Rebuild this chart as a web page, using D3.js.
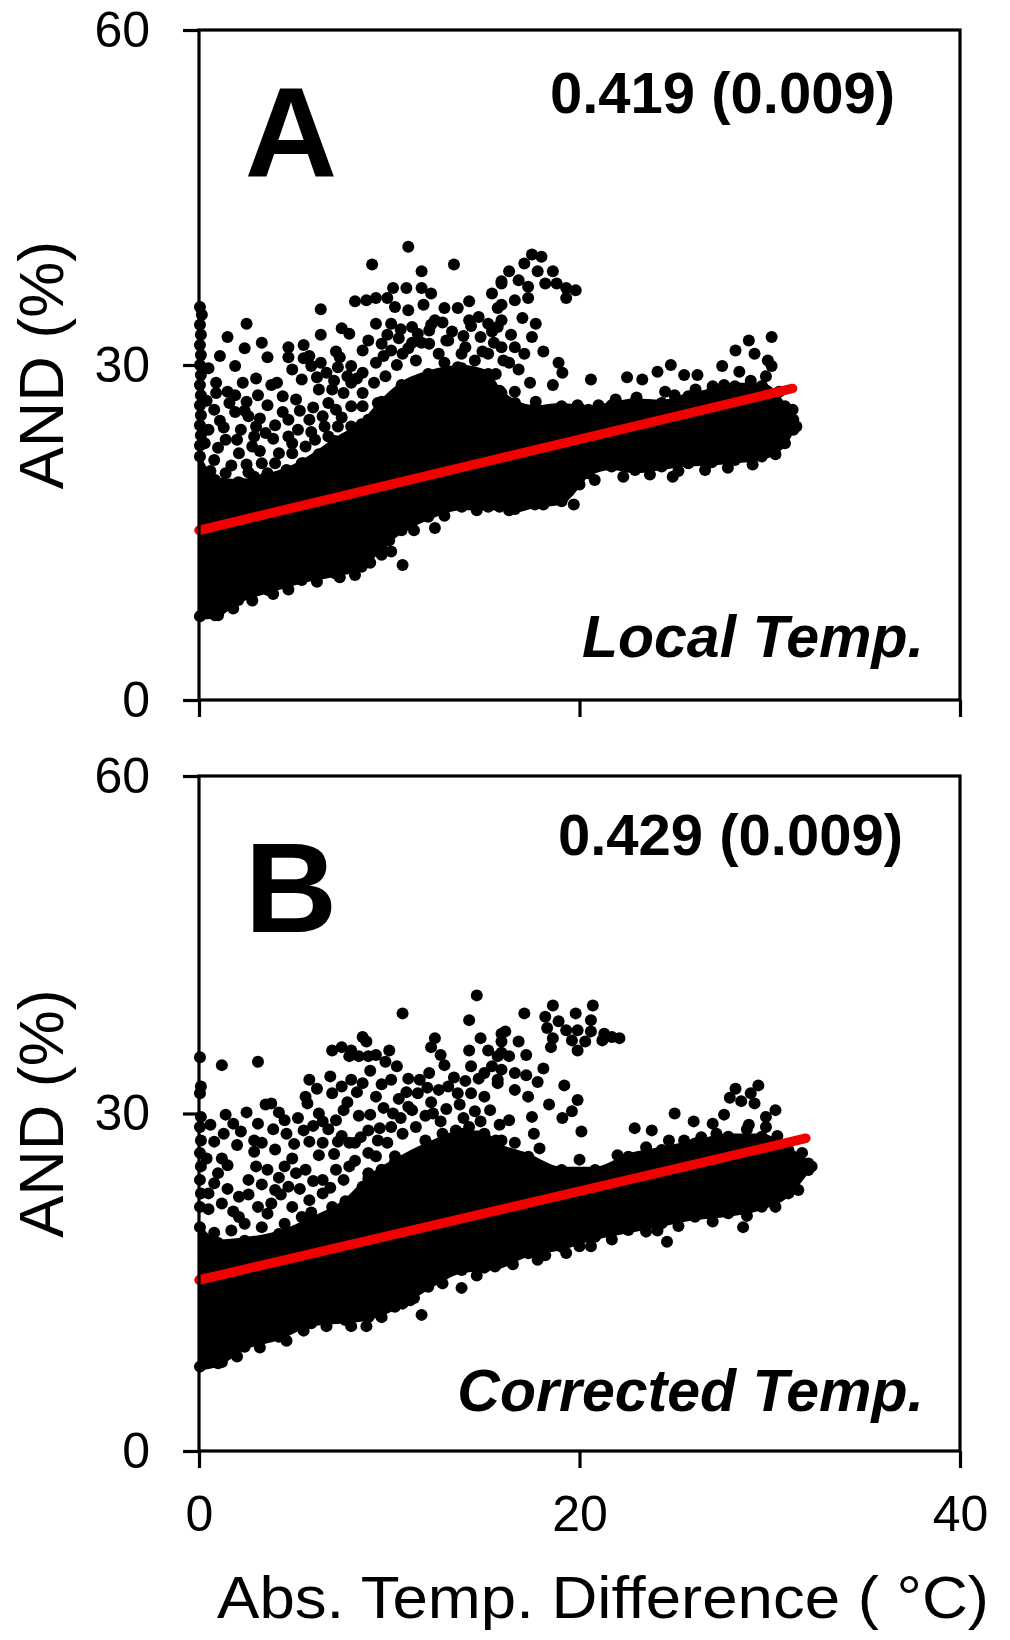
<!DOCTYPE html>
<html><head><meta charset="utf-8">
<script src="https://cdn.jsdelivr.net/npm/d3@7"></script>
<style>body{margin:0;background:#fff}svg{display:block}text{font-family:"Liberation Sans",Arial,sans-serif}</style>
</head><body><svg id="c" width="1010" height="1640"></svg>
<script>
// ---- data ----
const xTicks = [0, 20, 40];
const yTicks = [0, 30, 60];
const panelLabels = ["A", "B"];
const slopeLabels = ["0.419 (0.009)", "0.429 (0.009)"];
const tempLabels = ["Local Temp.", "Corrected Temp."];
const xTitle = "Abs. Temp. Difference ( °C)";
const yTitle = "AND (%)";

// regression lines [x, y]
const fitA = [[0, 15.2], [31.2, 27.9]];
const fitB = [[0, 15.2], [31.9, 27.8]];

// dense (fully overlapping) part of the cloud: x, lower edge, upper edge
const coreAx   = [0.05,0.84,2.07,3.64,5.40,7.15,8.55,9.60,10.65,12.05,13.81,15.2,15.8,16.61,17.66,19.06,20.0,20.47,21.69,22.92,24.32,25.72,26.95,28.17,29.58,30.80,31.24];
const coreALow = [7.2,7.3,8.65,9.55,10.44,11.04,11.64,13.4,14.9,16.1,17.0,17.0,17.0,16.8,17.2,17.5,19.0,20.0,20.6,20.3,20.6,20.9,21.0,21.2,21.5,22.7,23.9];
const coreAHigh= [22.1,20.0,19.8,20.3,21.5,23.5,25.0,27.0,28.5,29.5,30.0,29.5,28.0,26.9,26.4,26.6,26.4,26.3,26.7,27.0,26.9,27.5,27.9,28.4,28.4,26.6,25.4];

const coreBx   = [0.05,1.0,2.4,4.2,5.9,7.7,8.9,10.3,12.05,13.81,15.0,15.56,17.31,19.06,20.82,22.57,24.32,26.07,27.82,29.58,30.98,32.03];
const coreBLow = [7.2,7.5,8.97,9.86,11.05,11.35,11.6,12.53,14.31,15.79,16.0,16.09,17.27,17.86,18.75,19.35,19.94,20.53,20.83,21.42,22.60,24.68];
const coreBHigh= [20.2,18.8,19.0,19.6,20.8,22.5,24.5,26.0,27.5,28.5,28.5,27.64,26.46,25.27,25.27,26.46,27.05,27.64,28.23,28.23,27.05,25.86];

// individual (separately visible) points [x, y]
const pointsA = [
[11.0,40.6],[9.1,39.0],[13.4,39.0],[11.7,38.4],[15.9,37.3],[10.2,36.9],[10.9,36.9],[11.7,36.9],[12.2,36.4],[8.2,35.7],[8.8,35.8],[9.3,36.0],[9.9,36.0],[10.3,35.2],[11.0,34.9],[11.8,35.4],[12.9,35.1],[13.6,35.1],[14.2,35.7],[15.4,36.4],[15.9,35.4],
[6.4,35.0],[2.5,33.7],[1.5,32.5],[7.5,33.3],[7.9,32.8],[6.4,32.7],[8.9,32.2],[9.3,33.7],[10.1,33.7],[11.2,33.4],[12.1,33.1],[12.4,34.0],[14.2,34.0],[14.7,34.3],[15.2,33.7],[15.9,34.0],
[4.7,31.6],[5.5,31.8],[3.6,30.7],[4.7,30.7],[5.5,30.6],[7.2,31.2],[7.4,30.7],[5.9,29.9],[6.4,30.2],[6.7,29.3],[8.0,29.9],[8.6,29.3],[9.3,30.2],[9.6,31.9],[10.1,31.3],[10.7,31.0],[11.4,30.4],[12.1,31.9],[13.1,32.2],[13.8,31.0],[14.5,30.4],[15.2,31.0],
[1.9,29.9],[3.8,28.2],[0.9,27.5],[1.5,27.6],[1.9,27.3],[2.5,26.7],[0.8,26.0],[1.9,25.8],[2.6,25.4],[3.6,26.4],[4.4,27.2],[5.1,26.9],[5.4,28.7],[6.3,27.8],[7.0,27.8],[7.6,27.5],[8.0,28.4],[8.6,27.5],[4.4,25.8],[4.7,25.1],[5.8,25.1],[6.5,25.4],[7.2,26.0],[8.0,26.3],
[0.5,24.2],[1.4,23.3],[2.2,24.2],[3.0,24.5],[3.5,23.9],[0.8,21.5],[2.1,22.1],[2.8,22.7],[3.9,23.4],[4.7,23.6],[5.2,24.2],[3.3,21.2],[4.2,22.1],[4.9,22.1],[5.6,22.7],[6.1,23.3],[6.8,23.6],[7.3,24.5],[8.0,24.5],[8.9,25.1],
[0.5,19.4],[1.4,20.3],[2.2,19.4],[2.9,20.0],[3.6,20.3],[4.4,19.4],[5.1,19.7],[5.9,20.3],[6.5,20.9],[7.2,21.5],[7.9,22.1],[0.5,17.6],[1.5,19.1],[2.9,18.5],[3.8,18.5],[4.5,19.1],
[0.4,26.8],[1.1,25.0],[0.3,23.0],[1.0,22.6],[1.7,21.0],[0.6,20.5],[2.5,21.1],[2.0,23.3],[2.9,23.6],[2.6,20.4],[3.2,22.3],[3.4,19.8],[4.0,21.2],[4.6,20.6],[4.9,23.0],[4.0,24.6],[5.5,21.2],[5.9,24.0],[6.3,22.0],[6.6,24.5],[6.9,22.5],[7.6,23.1],[7.5,25.3],[8.3,23.7],[8.6,26.3],[9.1,24.2],[9.4,26.6],[8.3,28.8],[7.1,28.6],[6.0,26.2],[5.3,25.9],[3.2,25.2],[2.4,25.9],[1.3,24.4],[0.9,28.4],[1.6,26.6],[3.1,27.3],[4.1,28.4],[6.8,26.6],[7.8,29.0],
[9.8,29.0],[10.4,30.0],[11.0,31.5],[11.7,32.0],[12.6,31.0],[13.3,33.0],[13.9,32.6],[14.8,32.5],[15.5,32.0],[16.0,30.4],[15.6,29.2],[14.3,33.5],[12.8,33.8],[11.5,32.8],[10.5,32.4],[9.7,30.8],[12.9,30.2],[13.6,29.8],
[12.2,33.6],[13.0,32.2],[14.0,31.6],[14.9,31.2],[15.4,33.0],[11.2,32.0],[10.6,33.2],[9.9,32.7],[8.6,31.3],[9.2,28.4],[7.3,29.8],[6.2,28.9],[5.8,30.8],[4.9,29.6],[3.0,28.8],[2.3,28.4],[0.5,29.7],[1.1,30.8],[2.4,31.5],[3.3,32.0],
[10.0,14.3],[10.7,12.1],[10.1,13.3],[12.4,15.4],
[1.0,7.6],[1.8,8.2],[2.8,8.9],[3.9,9.5],[4.7,9.9],[6.2,10.6],[7.4,11.0],[8.2,11.2],[9.0,12.3],[9.6,13.0],[11.3,15.2],[12.9,16.5],[14.6,17.0],[18.1,17.5],[20.8,19.7],[22.3,20.0],[23.7,20.2],[25.2,20.5],[26.6,20.6],[27.8,20.8],[29.1,21.1],[30.3,22.0],
[21.0,26.4],[23.0,27.1],[25.0,27.3],[27.6,28.2],[29.0,28.6],[30.5,27.6],[31.2,26.0],[31.4,24.5],
[17.5,39.9],[18.0,39.7],[17.1,39.1],[16.3,38.4],[17.8,38.4],[18.6,38.4],[15.9,37.5],[16.8,37.6],[17.3,37.0],[18.2,37.3],[18.8,37.3],[19.3,36.9],[19.8,36.7],[16.6,35.8],[17.3,36.0],[19.3,36.0],[15.7,35.1],[17.0,34.2],[17.7,33.7],[15.7,33.4],[16.4,32.7],[17.5,32.5],[15.9,31.6],[16.6,31.6],[17.1,31.0],[18.1,31.2],[16.3,30.2],[16.8,29.6],[18.9,30.2],[19.1,29.3],[17.4,28.4],[18.6,28.2],[20.6,28.7],[15.9,27.5],[16.6,27.6],
[30.1,32.5],[28.9,32.2],[28.2,31.3],[29.2,31.0],[29.9,30.4],[30.1,29.9],[27.5,29.9],[28.4,29.4],[24.1,29.4],[24.8,30.0],[25.5,29.1],[26.2,29.1],[22.5,28.9],[23.3,28.7],[27.0,28.1],[26.1,27.8],[24.5,27.6],[29.8,29.0],[29.6,28.1],[21.9,26.9],[19.9,26.4],[17.7,26.7],
[24.9,20.0],[19.7,17.5],[16.3,17.0],
[0.05,35.2],[0.15,34.5],[0.05,33.6],[0.1,32.7],[0.05,31.8],[0.1,30.9],[0.05,30.0],[0.1,29.1],[0.05,28.2],[0.1,27.3],[0.05,26.4],[0.1,25.5],[0.05,24.6],[0.1,23.7],[0.05,22.8]
];

const pointsB = [
[14.6,40.5],[10.7,38.9],[14.2,38.3],[14.8,36.7],[12.4,36.7],[15.9,37.1],[12.2,35.9],[12.7,35.2],[14.2,35.6],[15.2,35.6],[15.9,35.4],[8.6,36.8],[8.8,36.4],[7.0,35.6],[7.5,35.9],[8.0,35.6],[7.9,35.1],[8.4,35.1],[8.9,35.1],[9.3,35.2],[10.0,35.6],[9.8,34.6],[14.3,34.2],[15.0,33.6],[15.7,33.0],
[1.2,34.3],[3.1,34.6],[5.8,33.0],[7.0,31.8],[7.5,32.4],[8.0,33.0],[8.6,32.7],[9.3,31.5],[10.1,33.0],[11.0,33.1],[12.1,33.6],[12.6,32.1],[13.1,32.4],[13.6,31.8],[14.3,31.8],[15.0,31.5],
[3.5,30.8],[5.6,31.5],[5.7,30.9],[6.3,30.0],[6.5,29.3],[1.4,29.9],[4.5,29.4],[4.6,28.2],[5.5,28.5],[5.8,27.5],[7.3,27.5],[8.2,27.4],[8.9,26.5],[9.4,27.6],[10.1,28.8],[10.7,28.2],[11.4,28.8],[11.9,27.6],[12.8,28.2],[13.5,28.5],[14.2,28.8],[14.9,27.9],[15.6,27.6],
[0.8,27.5],[1.2,26.0],[1.5,25.4],[2.9,27.6],[3.3,27.4],[4.0,26.8],[2.9,26.6],[3.6,25.0],[2.6,24.1],[4.5,25.3],[5.1,24.7],[5.6,25.0],[4.7,23.5],[4.0,23.2],[2.1,22.6],[0.8,23.8],[0.5,22.9],[1.2,22.0],[2.1,20.8],[3.1,21.7],[3.8,22.0],[4.9,21.7],[5.8,22.3],[6.5,24.1],[7.2,25.0],[7.9,25.3],[6.5,22.9],[7.0,21.7],[7.9,22.0],[8.6,23.5],[8.9,24.7],[9.6,25.0],[10.3,26.2],
[0.8,19.4],[1.7,19.6],[3.3,19.9],[4.5,20.2],[5.4,20.8],
[0.4,26.0],[1.0,24.7],[0.5,21.5],[1.5,23.3],[1.8,21.3],[2.6,22.8],[2.4,20.2],[3.3,23.7],[3.0,25.3],[3.6,21.1],[4.3,22.8],[4.2,24.3],[4.9,26.0],[5.3,23.3],[5.9,21.2],[6.0,24.0],[6.3,26.3],[6.9,23.4],[7.1,26.4],[7.6,24.1],[7.9,27.4],[8.2,25.8],[8.9,28.5],[9.3,26.2],[9.9,27.4],[10.6,29.6],[11.2,30.3],[11.9,29.8],[12.2,31.0],[13.0,30.4],[13.7,30.8],[14.5,30.2],[15.3,30.3],[15.8,29.0],[9.7,30.5],[10.5,31.3],[11.5,31.8],[8.4,29.8],[7.6,30.3],[6.8,28.6],[6.0,28.9],[5.0,27.3],[3.9,28.6],[2.2,28.4],[1.8,29.1],[2.5,30.1],[3.8,30.9],[7.2,29.4],[9.0,29.9],[12.3,30.0],
[6.2,32.2],[6.9,33.3],[7.8,31.0],[8.3,31.9],[9.0,33.8],[9.6,32.6],[10.4,34.2],[10.9,31.9],[11.6,33.0],[12.0,32.3],[12.9,34.3],[13.4,33.2],[14.0,32.9],[14.7,33.1],[15.4,34.2],[11.0,30.6],[12.7,29.3],[13.9,29.6],[14.8,29.3],[10.2,30.0],[9.5,28.7],[8.5,27.9],[7.5,28.0],[6.5,27.4],[5.2,29.6],[4.2,30.1],[3.1,29.1],[2.0,27.2],[1.3,28.2],[0.6,29.0],
[13.8,14.5],[11.7,12.1],[8.8,11.1],[11.3,13.6],[10.7,13.1],
[1.2,7.9],[2.0,8.4],[3.2,9.2],[4.6,9.8],[5.5,10.7],[6.7,11.1],[8.0,11.1],[9.6,11.9],[11.1,13.4],[12.8,14.9],[14.6,15.6],[16.5,16.6],[18.2,17.4],[20.0,18.2],[21.7,18.8],[23.5,19.5],[25.2,20.0],[27.0,20.4],[28.8,20.9],[30.3,21.7],[31.5,23.2],
[17.9,26.9],[20.0,25.9],[22.0,26.3],[23.5,27.0],[25.5,27.6],[27.2,28.2],[28.8,28.6],[30.4,28.0],[31.7,26.5],[32.2,25.3],
[0.05,35.0],[0.1,32.4],[0.05,31.8],[0.1,29.7],[0.05,28.8],[0.1,27.6],[0.05,26.5],[0.1,25.3],[0.05,24.1],[0.1,22.9],[0.05,21.7],
[18.6,39.6],[20.7,39.6],[17.1,38.9],[18.2,38.6],[19.8,38.9],[18.9,38.2],[20.6,38.3],[18.3,37.6],[19.3,37.4],[19.9,37.4],[20.6,37.3],[21.3,37.1],[22.1,36.7],[16.1,37.3],[18.6,36.7],[19.6,36.5],[20.3,36.4],[21.2,36.5],[21.7,36.8],[18.5,35.9],[19.9,35.6],
[15.9,36.4],[16.8,36.4],[15.7,35.1],[16.3,35.1],[17.2,35.2],[15.9,33.9],[16.6,33.6],[17.2,33.4],[18.1,34.0],[17.8,32.8],[15.7,32.7],[16.6,32.1],[17.3,31.5],[19.2,32.5],[19.9,31.2],[18.4,30.8],[16.3,29.4],[17.5,29.7],[19.1,29.6],[19.6,30.2],[20.1,28.4],[17.6,28.2],[15.9,27.6],[16.6,27.4],
[25.0,30.0],[26.0,29.3],[27.0,29.1],[28.2,32.2],[29.4,32.5],[29.0,31.8],[27.9,31.4],[28.5,31.1],[29.2,30.9],[30.3,30.3],[29.8,29.7],[27.6,29.9],[28.9,29.0],[29.8,28.8],[22.9,28.7],[23.8,28.5],[24.7,27.6],[26.4,27.9],
[28.6,19.9],[24.6,18.6],[24.1,19.6],[20.6,18.2],[17.8,17.0],[19.3,17.6],[16.6,17.9],[15.7,16.7]
];

// ---- drawing ----
const svg = d3.select("#c");
const x = d3.scaleLinear().domain([0, 40]).range([199, 960]);
const R = 6;
const panels = [
  {y: d3.scaleLinear().domain([0, 60]).range([700, 30]), cx: coreAx, lo: coreALow, hi: coreAHigh, pts: pointsA, fit: fitA,
   label: panelLabels[0], slope: slopeLabels[0], temp: tempLabels[0], labelY: 177, slopeX: 895, slopeY: 113, tempY: 657, showX: false},
  {y: d3.scaleLinear().domain([0, 60]).range([1451, 776]), cx: coreBx, lo: coreBLow, hi: coreBHigh, pts: pointsB, fit: fitB,
   label: panelLabels[1], slope: slopeLabels[1], temp: tempLabels[1], labelY: 932, slopeX: 903, slopeY: 855, tempY: 1411, showX: true}
];

panels.forEach(p => {
  const g = svg.append("g");
  const y = p.y;
  const core = p.cx.map((v, i) => ({x: v, lo: p.lo[i], hi: p.hi[i]}));
  g.append("path").datum(core)
    .attr("d", d3.area().x(d => x(d.x)).y0(d => y(d.lo)).y1(d => y(d.hi)).curve(d3.curveMonotoneX))
    .attr("fill", "#000");
  g.selectAll("circle.edge").data(core.flatMap(d => [[d.x, d.lo + 0.3], [d.x, d.hi - 0.3]])).join("circle")
    .attr("cx", d => x(d[0])).attr("cy", d => y(d[1])).attr("r", R).attr("fill", "#000");
  g.selectAll("circle.pt").data(p.pts).join("circle")
    .attr("cx", d => x(d[0])).attr("cy", d => y(d[1])).attr("r", R).attr("fill", "#000");
  g.append("path").datum(p.fit)
    .attr("d", d3.line().x(d => x(d[0])).y(d => y(d[1])))
    .attr("stroke", "#f20000").attr("stroke-width", 9.5).attr("stroke-linecap", "round").attr("fill", "none");

  // frame
  g.append("rect").attr("x", x(0)).attr("y", y(60)).attr("width", x(40) - x(0)).attr("height", y(0) - y(60))
    .attr("fill", "none").attr("stroke", "#000").attr("stroke-width", 3.2);

  const ya = g.append("g").attr("transform", `translate(${x(0)},0)`)
    .call(d3.axisLeft(y).tickValues(yTicks).tickSize(16).tickPadding(33).tickFormat(d3.format("d")));
  ya.select(".domain").remove();
  ya.selectAll("line").attr("stroke-width", 3.2);
  ya.selectAll("text").attr("font-size", 50).attr("fill", "#000").attr("font-family", "Liberation Sans, Arial, sans-serif");

  const xa = g.append("g").attr("transform", `translate(0,${y(0)})`)
    .call(d3.axisBottom(x).tickValues(xTicks).tickSize(17).tickPadding(27).tickFormat(p.showX ? d3.format("d") : () => ""));
  xa.select(".domain").remove();
  xa.selectAll("line").attr("stroke-width", 3.2);
  xa.selectAll("text").attr("font-size", 50).attr("fill", "#000").attr("font-family", "Liberation Sans, Arial, sans-serif");

  g.append("text").attr("x", 291).attr("y", p.labelY).attr("text-anchor", "middle")
    .attr("font-size", 128).attr("font-weight", "bold").text(p.label);
  g.append("text").attr("x", p.slopeX).attr("y", p.slopeY).attr("text-anchor", "end")
    .attr("font-size", 58).attr("font-weight", "bold").text(p.slope);
  g.append("text").attr("x", 924).attr("y", p.tempY).attr("text-anchor", "end")
    .attr("font-size", 59).attr("font-weight", "bold").attr("font-style", "italic").text(p.temp);

  const mid = (y(0) + y(60)) / 2;
  g.append("text").attr("transform", `translate(63,${mid}) rotate(-90)`).attr("text-anchor", "middle")
    .attr("font-size", 63).text(yTitle);
});

svg.append("text").attr("x", 217).attr("y", 1618).attr("font-size", 60)
  .attr("textLength", 772).attr("lengthAdjust", "spacingAndGlyphs").text(xTitle);
</script></body></html>
